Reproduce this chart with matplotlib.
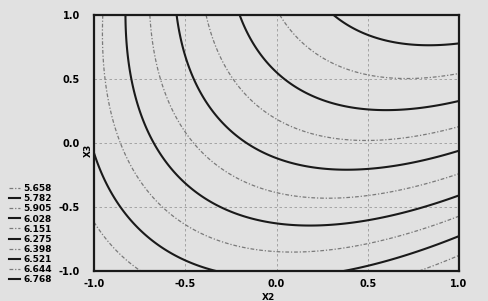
import numpy as np
import matplotlib
matplotlib.use("Agg")
import matplotlib.pyplot as plt
from matplotlib.lines import Line2D

# coeficientes da superficie de resposta (lidos das curvas de nivel)
# f = b0 + b1*x2 + b2*x3 + b11*x2^2 + b22*x3^2 + b12*x2*x3
coef_names = ["b0", "b1", "b2", "b11", "b22", "b12"]
coef_vals = [6.325, 0.26, 0.41, -0.27, -0.10, 0.25]

niveis = [5.658, 5.782, 5.905, 6.028, 6.151, 6.275, 6.398, 6.521, 6.644, 6.768]
rotulos = ["5.658", "5.782", "5.905", "6.028", "6.151", "6.275", "6.398", "6.521", "6.644", "6.768"]
ticks = [-1.0, -0.5, 0.0, 0.5, 1.0]
tick_labels = ["-1.0", "-0.5", "0.0", "0.5", "1.0"]

b = dict(zip(coef_names, coef_vals))

x2 = np.linspace(-1, 1, 301)
x3 = np.linspace(-1, 1, 301)
X2, X3 = np.meshgrid(x2, x3)
Z = (b["b0"] + b["b1"] * X2 + b["b2"] * X3 + b["b11"] * X2**2
     + b["b22"] * X3**2 + b["b12"] * X2 * X3)

fundo = "#e1e1e1"
plt.rcParams['font.family'] = ['DejaVu Sans']

fig = plt.figure(figsize=(4.88, 3.01), dpi=100, facecolor=fundo)
ax = fig.add_axes([0.1926, 0.0997, 0.748, 0.8505], facecolor=fundo)

# estilos alternados: pontilhado / continuo
estilos = []
for i in range(len(niveis)):
    if i % 2 == 0:
        estilos.append(dict(color="#7a7a7a", lw=0.9, ls=(0, (3, 1.5, 1, 1.5))))
    else:
        estilos.append(dict(color="#1a1a1a", lw=1.5, ls="-"))

for nivel, st in zip(niveis, estilos):
    ax.contour(X2, X3, Z, levels=[nivel], colors=[st["color"]],
               linewidths=st["lw"], linestyles=[st["ls"]])

ax.set_xlim(-1, 1)
ax.set_ylim(-1, 1)
ax.set_xticks(ticks)
ax.set_yticks(ticks)
ax.set_xticklabels(tick_labels, fontsize=7, fontweight='bold')
ax.set_yticklabels(tick_labels, fontsize=7, fontweight='bold')
ax.tick_params(length=0, pad=6)
ax.tick_params(axis='y', pad=10)
ax.grid(True, color="#9a9a9a", lw=0.6, ls=(0, (3, 3)))
for s in ax.spines.values():
    s.set_linewidth(1.6)
    s.set_color("#1a1a1a")

fig.text(88 / 488, 1 - 150 / 301, "X3", rotation=90, fontsize=6.5,
         fontweight='bold', ha='center', va='center')
fig.text(268 / 488, 1 - 297 / 301, "X2", fontsize=6.5, fontweight='bold',
         ha='center', va='center')

handles = [Line2D([], [], **st) for st in estilos]
fig.legend(handles, rotulos, loc='upper left', bbox_to_anchor=(0.005, 1 - 178 / 301),
           frameon=False, prop=dict(size=6.5, weight='bold'), labelspacing=0.12,
           handlelength=1.2, handletextpad=0.4, borderpad=0.2)

fig.savefig("out.png", dpi=100, facecolor=fundo)
